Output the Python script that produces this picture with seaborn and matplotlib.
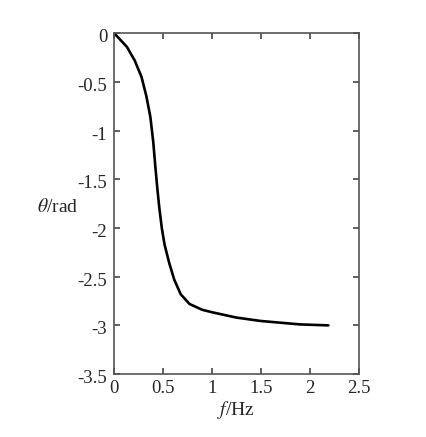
import pandas as pd
import matplotlib
matplotlib.use('Agg')
import matplotlib.pyplot as plt
import matplotlib.transforms as mtransforms
import seaborn as sns

# 위상 응답 곡선
freq = [0, 0.13, 0.21, 0.28, 0.33, 0.37, 0.40, 0.42, 0.44, 0.46, 0.487,
        0.515, 0.563, 0.614, 0.68, 0.77, 0.90, 1.0, 1.25, 1.5,
        1.9, 2.19]
theta = [0, -0.14, -0.28, -0.45, -0.65, -0.86, -1.12, -1.36, -1.58, -1.78, -2.0,
         -2.17, -2.36, -2.53, -2.68, -2.78, -2.84, -2.865, -2.92, -2.955,
         -2.99, -3.0]

xticks = [0, 0.5, 1, 1.5, 2, 2.5]
yticks = [0, -0.5, -1, -1.5, -2, -2.5, -3, -3.5]
xtick_labels = ['0', '0.5', '1', '1.5', '2', '2.5']
ytick_labels = ['0', '-0.5', '-1', '-1.5', '-2', '-2.5', '-3', '-3.5']

df = pd.DataFrame({'f': freq, 'theta': theta})

sns.set_style('ticks')
plt.rcParams['font.family'] = ['Liberation Serif', 'DejaVu Serif']
plt.rcParams['mathtext.fontset'] = 'stix'

fig = plt.figure(figsize=(4.26, 4.37), dpi=100)
ax = fig.add_axes([0.268, 0.144, 0.574, 0.780])

sns.lineplot(data=df, x='f', y='theta', color='black', linewidth=1.9, ax=ax, sort=False)

ax.set_xlim(0, 2.5)
ax.set_ylim(-3.5, 0)
ax.set_xticks(xticks)
ax.set_xticklabels(xtick_labels)
ax.set_yticks(yticks)
ax.set_yticklabels(ytick_labels)
ax.tick_params(direction='in', length=4, width=1.2, color='#444444',
               labelsize=13.5, top=True, right=True, pad=4)
ax.tick_params(axis='y', pad=5)

# y 눈금 라벨을 살짝 아래로
shift = mtransforms.ScaledTranslation(0, -1.8 / 72, fig.dpi_scale_trans)
for lab in ax.get_yticklabels():
    lab.set_transform(lab.get_transform() + shift)

for s in ax.spines.values():
    s.set_visible(True)
    s.set_color('#555555')
    s.set_linewidth(1.2)

ax.set_xlabel(r'$f$/Hz', fontsize=14, labelpad=2)
ax.set_ylabel(r'$\theta$/rad', fontsize=14, rotation=0, ha='right', va='center')
ax.yaxis.set_label_coords(-0.145, 0.49)

plt.savefig('out.png', dpi=100)
